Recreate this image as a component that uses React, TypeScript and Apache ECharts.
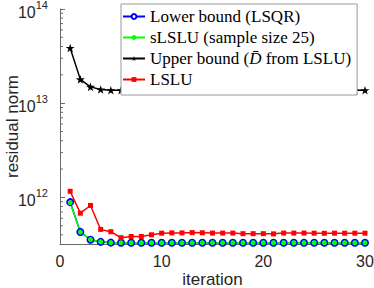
import React, { useEffect, useRef } from "react";
import * as echarts from "echarts";

const iterations = [1,2,3,4,5,6,7,8,9,10,11,12,13,14,15,16,17,18,19,20,21,22,23,24,25,26,27,28,29,30];
const lowerBound = [8.9e11,4.3e11,3.55e11,3.37e11,3.31e11,3.3e11,3.3e11,3.3e11,3.3e11,3.3e11,3.3e11,3.3e11,3.3e11,3.3e11,3.3e11,3.3e11,3.3e11,3.3e11,3.3e11,3.3e11,3.3e11,3.3e11,3.3e11,3.3e11,3.3e11,3.3e11,3.3e11,3.3e11,3.3e11,3.3e11];
const sLSLU = [8.8e11,4.28e11,3.57e11,3.38e11,3.31e11,3.3e11,3.3e11,3.3e11,3.3e11,3.3e11,3.3e11,3.3e11,3.3e11,3.3e11,3.3e11,3.3e11,3.3e11,3.3e11,3.3e11,3.3e11,3.3e11,3.3e11,3.3e11,3.3e11,3.3e11,3.3e11,3.3e11,3.3e11,3.3e11,3.3e11];
const upperBound = [3.85e13,1.79e13,1.49e13,1.4e13,1.37e13,1.37e13,1.37e13,1.37e13,1.37e13,1.37e13,1.37e13,1.37e13,1.37e13,1.37e13,1.37e13,1.37e13,1.37e13,1.37e13,1.37e13,1.37e13,1.37e13,1.37e13,1.37e13,1.37e13,1.37e13,1.37e13,1.37e13,1.37e13,1.37e13,1.37e13];
const lslu = [1.16e12,6.8e11,8.2e11,4.57e11,4.32e11,3.73e11,3.85e11,3.85e11,4.01e11,4.17e11,4.2e11,4.2e11,4.23e11,4.21e11,4.18e11,4.18e11,4.18e11,4.12e11,4.12e11,4.12e11,4.1e11,4.18e11,4.18e11,4.18e11,4.17e11,4.16e11,4.17e11,4.17e11,4.17e11,4.17e11];
const minorTickValues = [4e11,5e11,6e11,7e11,8e11,9e11,2e12,3e12,4e12,5e12,6e12,7e12,8e12,9e12,2e13,3e13,4e13,5e13,6e13,7e13,8e13,9e13];
const seriesNames = ["Lower bound (LSQR)", "sLSLU (sample size 25)", "Upper bound (D̄ from LSLU)", "LSLU"];
const xTicks = { min: 0, max: 30, interval: 10 };
const yRange = { min: 3.2e11, max: 1e14 };

const STAR = "path://M0,-10 L2.245,-3.09 L9.51,-3.09 L3.633,1.18 L5.88,8.09 L0,3.82 L-5.88,8.09 L-3.633,1.18 L-9.51,-3.09 L-2.245,-3.09 Z";
const SERIF = "'Liberation Serif', 'DejaVu Serif', serif";
const SANS = "'Liberation Sans', Arial, sans-serif";

export default function App() {
  const ref = useRef<HTMLDivElement>(null);
  useEffect(() => {
    if (!ref.current) return;
    const chart = echarts.init(ref.current, null, { renderer: "svg" });
    const pair = (arr: number[]) => iterations.map((x, i) => [x, arr[i]]);
    const axisColor = "#6a6a6a";
    const textColor = "#262626";
    chart.setOption({
      animation: false,
      grid: { left: 60, right: 9, top: 9, bottom: 44, outerBoundsMode: "none", containLabel: false },
      legend: {
        data: seriesNames,
        orient: "vertical",
        left: 121,
        top: 4,
        padding: [4, 6, 7, 1],
        itemGap: 4,
        itemWidth: 22,
        itemHeight: 6,
        backgroundColor: "#ffffff",
        borderColor: "#9a9a9a",
        borderWidth: 1,
        borderRadius: 0,
        textStyle: {
          fontFamily: SERIF, fontSize: 17, lineHeight: 14, color: "#000",
          rich: {
            n: { fontFamily: SERIF, fontSize: 17, lineHeight: 14, color: "#000" },
            i: { fontFamily: SERIF, fontSize: 17, lineHeight: 14, color: "#000", fontStyle: "italic" },
          },
        },
        formatter: (name: string) => {
          if (name === seriesNames[2]) return "{n|Upper bound (}{i|D̄}{n| from LSLU)}";
          return "{n|" + name + "}";
        },
      },
      xAxis: {
        type: "value",
        min: xTicks.min,
        max: xTicks.max,
        interval: xTicks.interval,
        name: "iteration",
        nameLocation: "middle",
        nameGap: 27,
        nameMoveOverlap: false,
        nameTextStyle: { fontFamily: SANS, fontSize: 17, color: textColor },
        axisLine: { show: true, lineStyle: { color: axisColor, width: 1 } },
        axisTick: { show: true, inside: true, length: 4, lineStyle: { color: axisColor } },
        axisLabel: { fontFamily: SANS, fontSize: 16, color: textColor, margin: 9 },
        splitLine: { show: false },
      },
      yAxis: {
        type: "log",
        logBase: 10,
        min: yRange.min,
        max: yRange.max,
        name: "residual norm",
        nameLocation: "middle",
        nameGap: 39,
        nameMoveOverlap: false,
        nameTextStyle: { fontFamily: SANS, fontSize: 17, color: textColor },
        axisLine: { show: true, lineStyle: { color: axisColor, width: 1 } },
        axisTick: { show: true, inside: true, length: 5, lineStyle: { color: axisColor } },
        axisLabel: {
          margin: 12,
          padding: [6, 0, 0, 0],
          formatter: (v: number) => {
            const l = Math.log10(v);
            const e = Math.round(l);
            if (Math.abs(l - e) > 1e-6) return "";
            return `{b|10}{s|${e}}`;
          },
          rich: {
            b: { fontFamily: SANS, fontSize: 16, color: textColor, lineHeight: 26, verticalAlign: "middle" },
            s: { fontFamily: SANS, fontSize: 11, color: textColor, lineHeight: 11, verticalAlign: "top" },
          },
        },
        splitLine: { show: false },
      },
      series: [
        {
          name: seriesNames[0],
          type: "line",
          data: pair(lowerBound),
          symbol: "emptyCircle",
          symbolSize: 6,
          color: "#0000ff",
          lineStyle: { width: 1.5, color: "#0000ff" },
          itemStyle: { color: "#0000ff", borderWidth: 1 },
        },
        {
          name: seriesNames[1],
          type: "line",
          data: pair(sLSLU),
          symbol: "circle",
          symbolSize: 5,
          color: "#00ff00",
          lineStyle: { width: 1.5, color: "#00ff00" },
          itemStyle: { color: "#00ff00" },
        },
        {
          name: seriesNames[2],
          type: "line",
          data: pair(upperBound),
          symbol: STAR,
          symbolKeepAspect: true,
          symbolSize: 9,
          color: "#000000",
          lineStyle: { width: 1.5, color: "#000000" },
          itemStyle: { color: "#000000" },
        },
        {
          name: seriesNames[3],
          type: "line",
          data: pair(lslu),
          symbol: "rect",
          symbolSize: 5,
          color: "#ff0000",
          lineStyle: { width: 1.5, color: "#ff0000" },
          itemStyle: { color: "#ff0000" },
        },
        {
          name: "minorTicks",
          type: "custom",
          silent: true,
          clip: false,
          data: minorTickValues.map((v) => [xTicks.min, v]),
          renderItem: (params: any, api: any) => {
            const p = api.coord([api.value(0), api.value(1)]);
            return {
              type: "line",
              shape: { x1: p[0], y1: p[1], x2: p[0] + 3, y2: p[1] },
              style: { stroke: axisColor, lineWidth: 1 },
            };
          },
        },
      ],
    });
    return () => chart.dispose();
  }, []);
  return <div ref={ref} style={{ position: "absolute", left: 0, top: 0, width: 374, height: 288 }} />;
}
